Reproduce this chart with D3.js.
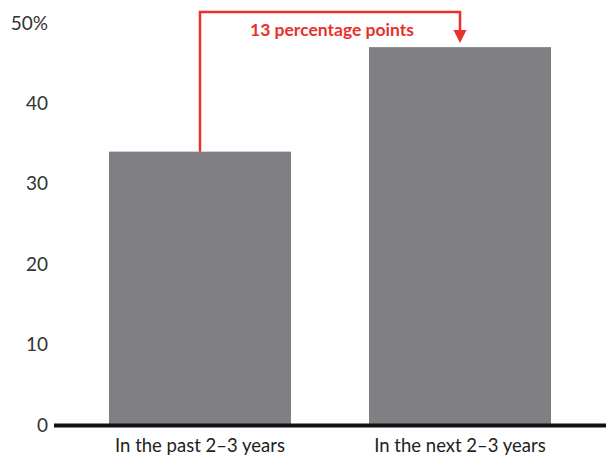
<!DOCTYPE html>
<html>
<head>
<meta charset="utf-8">
<script src="https://cdn.jsdelivr.net/npm/d3@7"></script>
<style>
  body { margin: 0; background: #fff; }
  text { font-family: Lato, "Open Sans", sans-serif; }
</style>
</head>
<body>
<div id="chart"></div>
<script>
// chart data
let categories = ['In the past 2–3 years', 'In the next 2–3 years'],
    values = [34, 47],
    yTicks = [0, 10, 20, 30, 40, 50],
    note = '13 percentage points';

let width = 609,
    height = 458,
    barColor = '#808084',
    red = '#e8312a';

let svg = d3.select('#chart').append('svg')
  .attr('width', width)
  .attr('height', height)

let x = d3.scaleBand()
  .domain(categories)
  .range([54, 606])
  .paddingInner(0.3)
  .paddingOuter(0.2115)

let y = d3.scaleLinear()
  .domain([0, 50])
  .range([425, 23])

// y labels
let yAxis = d3.axisLeft(y)
  .tickValues(yTicks)
  .tickSize(0)
  .tickPadding(0)
  .tickFormat(d => d == 50 ? '50%' : d)

svg.append('g')
  .attr('transform', 'translate(48,0)')
  .call(yAxis)
  .call(g => g.select('.domain').remove())
  .selectAll('text')
  .attr('font-size', 19)
  .attr('fill', '#333')
  .style('font-family', 'Lato, sans-serif')

// bars
svg.selectAll('rect.bar').data(values)
  .enter().append('rect')
  .attr('class', 'bar')
  .attr('x', (d, i) => x(categories[i]))
  .attr('width', x.bandwidth())
  .attr('y', d => y(d))
  .attr('height', d => y(0) - y(d))
  .attr('fill', barColor)

// baseline
svg.append('line')
  .attr('x1', 54).attr('x2', 606)
  .attr('y1', y(0) + 0.5).attr('y2', y(0) + 0.5)
  .attr('stroke', '#111')
  .attr('stroke-width', 4)

// category labels
let xAxis = d3.axisBottom(x).tickSize(0).tickPadding(0)
svg.append('g')
  .attr('transform', 'translate(0,' + (y(0) + 14) + ')')
  .call(xAxis)
  .call(g => g.select('.domain').remove())
  .selectAll('text')
  .attr('font-size', 18.5)
  .attr('fill', '#222')
  .style('font-family', 'Lato, sans-serif')

// difference bracket
let x1 = x(categories[0]) + x.bandwidth() / 2,
    x2 = x(categories[1]) + x.bandwidth() / 2,
    topY = 12;

svg.append('path')
  .attr('d', 'M' + x1 + ',' + y(values[0]) + 'V' + topY + 'H' + x2 + 'V' + (y(values[1]) - 16))
  .attr('fill', 'none')
  .attr('stroke', red)
  .attr('stroke-width', 2.5)

svg.append('path')
  .attr('d', 'M' + (x2 - 6.5) + ',' + (y(values[1]) - 17) + 'L' + (x2 + 6.5) + ',' + (y(values[1]) - 17) + 'L' + x2 + ',' + (y(values[1]) - 4) + 'Z')
  .attr('fill', red)

svg.append('text')
  .attr('x', (x1 + x2) / 2 + 2)
  .attr('y', 36)
  .attr('text-anchor', 'middle')
  .attr('font-size', 17.5)
  .attr('font-weight', 'bold')
  .attr('fill', red)
  .text(note)
</script>
</body>
</html>
